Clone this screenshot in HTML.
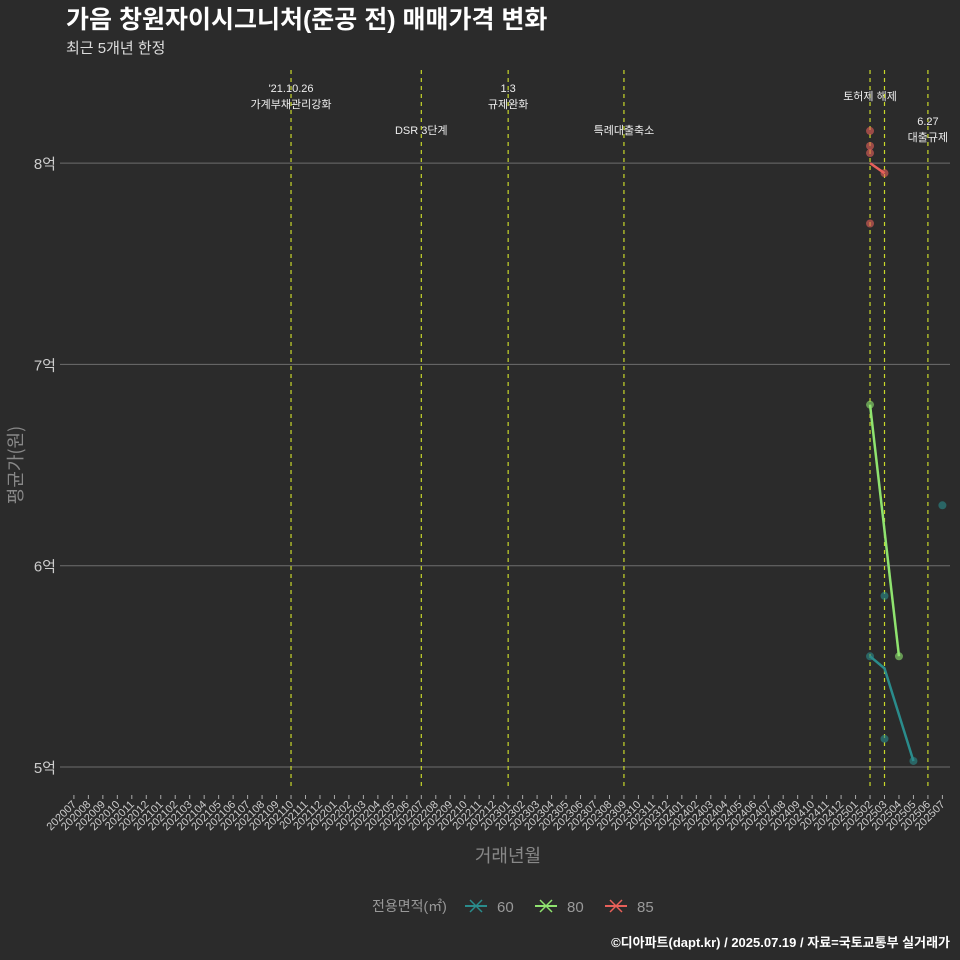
<!DOCTYPE html>
<html><head><meta charset="utf-8"><style>
body{margin:0;background:#2b2b2b;}
svg{display:block;font-family:"Liberation Sans","Noto Sans CJK KR",sans-serif;}
</style></head><body>
<svg id="c" width="960" height="960" viewBox="0 0 960 960">
<rect width="960" height="960" fill="#2b2b2b"/>
<text x="66" y="28" font-size="25" font-weight="bold" fill="#fff">가음 창원자이시그니처(준공 전) 매매가격 변화</text>
<text x="66" y="53" font-size="15" fill="#ddd">최근 5개년 한정</text>
<g id="grid"></g><g id="events"></g><g id="series"></g><g id="xt"></g><g id="yt"></g>
<text x="508" y="862" font-size="18" fill="#888" text-anchor="middle">거래년월</text>
<text transform="translate(22,465) rotate(-90)" font-size="18" fill="#888" text-anchor="middle" style="font-family:'Noto Sans CJK KR',sans-serif">평균가(원)</text>
<g font-size="14" fill="#999">
<text x="372" y="911">전용면적(㎡)</text>
</g>
<g id="legend"></g>
<text x="950" y="947" font-size="13" font-weight="bold" fill="#fff" text-anchor="end">©디아파트(dapt.kr) / 2025.07.19 / 자료=국토교통부 실거래가</text>
</svg>
<script>
const months=[];for(let y=2020;y<=2025;y++)for(let m=1;m<=12;m++){const k=y*100+m;if(k>=202007&&k<=202507)months.push(String(k));}
const yTicks=[5,6,7,8];
const yLabels=["5억","6억","7억","8억"];
const eventMonths=["202110","202207","202301","202309","202502","202503","202506"];
const eventLabels=[["'21.10.26","가계부채관리강화"],["DSR 3단계"],["1.3","규제완화"],["특례대출축소"],["토허제 해제"],[],["6.27","대출규제"]];
const eventLabelY=[92,134,92,134,100,0,125];
const seriesNames=["60","80","85"];
const seriesColors=["#2a8c8c","#8fe36f","#e8605a"];
const lineMonths=[["202502","202503","202505"],["202502","202504"],["202502","202503"]];
const lineValues=[[5.55,5.49,5.03],[6.8,5.55],[8.0,7.95]];
const pointMonths=[["202502","202503","202503","202505","202507"],["202502","202504"],["202502","202502","202502","202502","202503"]];
const pointValues=[[5.55,5.85,5.14,5.03,6.30],[6.8,5.55],[8.16,8.085,8.05,7.70,7.95]];
const X=m=>73.9+months.indexOf(m)*14.475;
const Y=v=>767-(v-5)*201.3;
const NS="http://www.w3.org/2000/svg";
function mk(t,a,p){const e=document.createElementNS(NS,t);for(const k in a)e.setAttribute(k,a[k]);p.appendChild(e);return e;}
const g=document.getElementById('grid');
yTicks.forEach((v,i)=>{const l=mk('line',{x1:60,x2:950,y1:Y(v),y2:Y(v),stroke:'#6e6e6e','stroke-width':1},g);


const t=mk('text',{x:56,y:Y(v)+6,'font-size':15,fill:'#ccc','text-anchor':'end'},document.getElementById('yt'));t.textContent=yLabels[i];

});
const xt=document.getElementById('xt');
months.forEach(m=>{const x=X(m);mk('line',{x1:x,x2:x,y1:795,y2:799,stroke:'#aaa'},xt);
const t=mk('text',{transform:`translate(${x+3},805) rotate(-45)`,'font-size':11,fill:'#ccc','text-anchor':'end'},xt);t.textContent=m;

});
const ev=document.getElementById('events');
eventMonths.forEach((m,i)=>{const x=X(m);const l=mk('line',{x1:x,x2:x,y1:70,y2:790,stroke:'#c8d82a','stroke-width':1.2,'stroke-dasharray':'4 4'},ev);


eventLabels[i].forEach((s,j)=>{const t=mk('text',{x:x,y:eventLabelY[i]+j*16,'font-size':11,fill:'#eee','text-anchor':'middle'},ev);t.textContent=s;

});});
const sg=document.getElementById('series');
seriesNames.forEach((n,i)=>{
pointMonths[i].forEach((m,j)=>{const c=mk('circle',{cx:X(m),cy:Y(pointValues[i][j]),r:4,fill:seriesColors[i],opacity:0.6},sg);

});
const p=mk('polyline',{points:lineMonths[i].map((m,j)=>X(m)+','+Y(lineValues[i][j])).join(' '),fill:'none',stroke:seriesColors[i],'stroke-width':2.5},sg);


const lg=document.getElementById('legend');
const lx=465+i*70;
const e=mk('g',{},lg);


mk('line',{x1:lx,x2:lx+22,y1:906,y2:906,stroke:seriesColors[i],'stroke-width':2},e);
mk('line',{x1:lx+5,x2:lx+17,y1:900,y2:912,stroke:seriesColors[i],'stroke-width':1.5},e);
mk('line',{x1:lx+5,x2:lx+17,y1:912,y2:900,stroke:seriesColors[i],'stroke-width':1.5},e);
const t=mk('text',{x:lx+32,y:912,'font-size':15,fill:'#999'},e);t.textContent=n;});
</script>
</body></html>
